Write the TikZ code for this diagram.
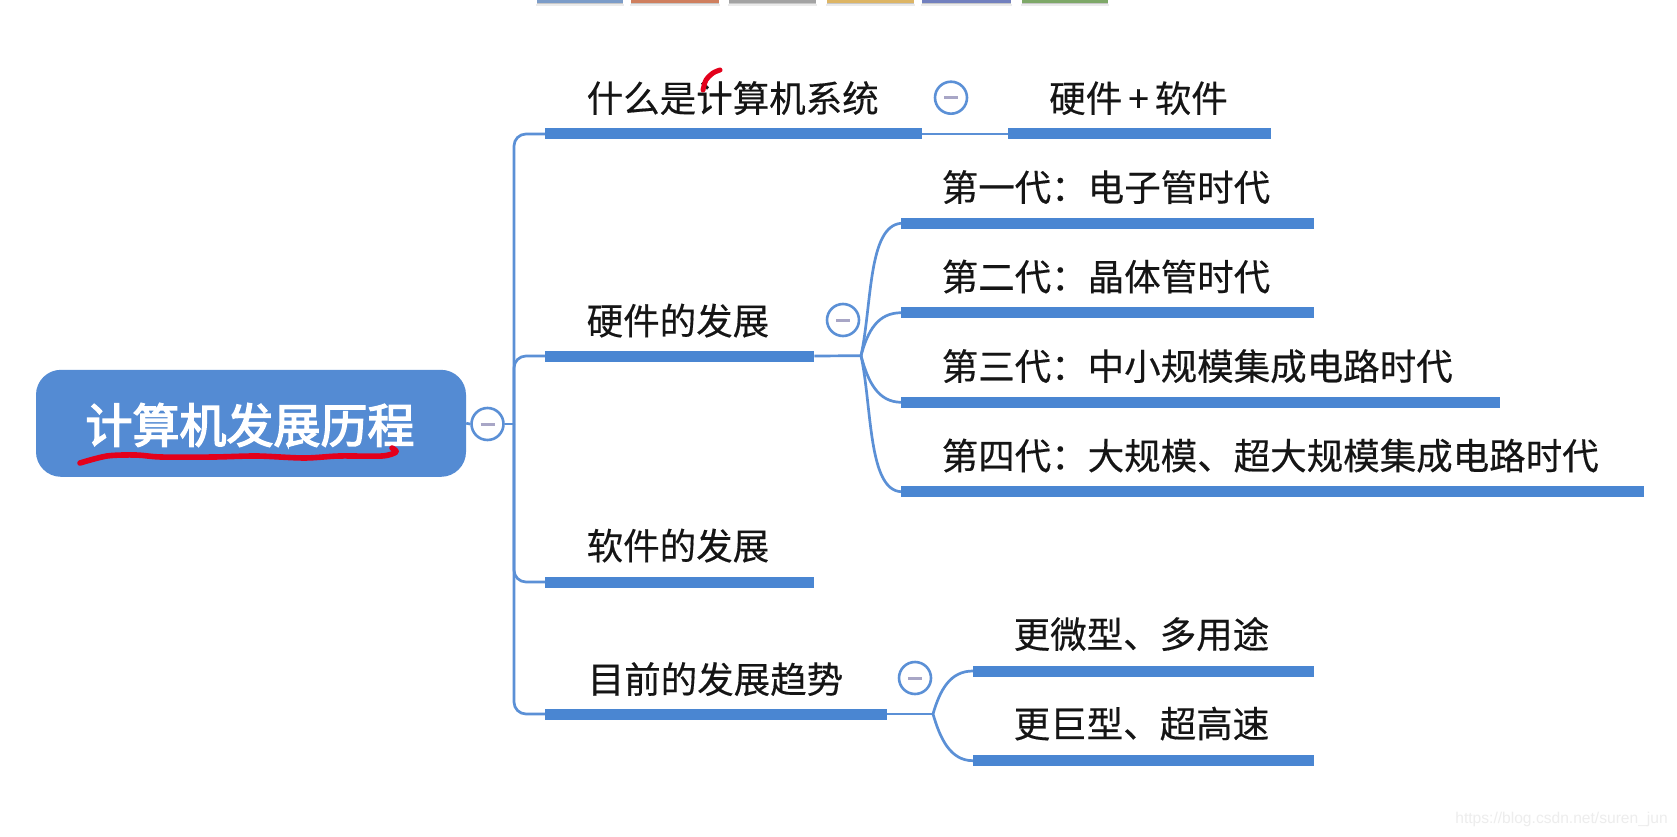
\documentclass[tikz,border=0pt]{standalone}
\usepackage{fontspec}
\setmainfont{Liberation Sans}
\newfontfamily\cjk[FakeBold=0.35]{Noto Sans CJK SC}
\newfontfamily\cjkroot[FakeBold=3]{Noto Sans CJK SC}
\definecolor{barblue}{HTML}{4A86D2}
\definecolor{rootblue}{HTML}{548BD3}
\definecolor{linkblue}{HTML}{5B90D6}
\definecolor{minusgray}{HTML}{A8A6C6}
\definecolor{penred}{HTML}{E3001B}
\definecolor{inkblack}{HTML}{151515}
\definecolor{tabA}{HTML}{7C9CC8}
\definecolor{tabB}{HTML}{CF7F5E}
\definecolor{tabC}{HTML}{A3A3A3}
\definecolor{tabD}{HTML}{DDB565}
\definecolor{tabE}{HTML}{7280BE}
\definecolor{tabF}{HTML}{7EA868}
\tikzset{
  x=1pt,y=-1pt,
  barnode/.style={draw=none,fill=barblue,inner sep=0pt,minimum height=11pt,anchor=west},
  lab/.style={inner sep=0pt,anchor=west,text=inkblack,font=\cjk\fontsize{36.5}{40}\selectfont,text height=31pt,text depth=5pt},
  foldbtn/.style={circle,draw=linkblue,line width=2.6pt,fill=white,minimum size=32pt,inner sep=0pt},
  link/.style={draw=linkblue,line width=2.7pt},
  minusmark/.style={draw=minusgray,line width=3pt},
  pen/.style={draw=penred,line cap=round,line join=round,line width=5.6pt},
  tabbar/.style={inner sep=0pt,minimum height=2.5pt,anchor=north west}
}
\begin{document}
\begin{tikzpicture}
\useasboundingbox[fill=white] (0,0) rectangle (1677,837);
% top toolbar strips
\foreach \nm/\xa/\w/\col in {ta/537/86/tabA,tb/631/88/tabB,tc/729/87/tabC,td/827/87/tabD,te/922/89/tabE,tf/1022/86/tabF}{
  \fill[black!22] (\xa,0) rectangle (\xa+\w,4.5);
  \fill[black!8] (\xa-1,4.5) rectangle (\xa+\w+1,6.5);
  \node[tabbar,fill=\col,minimum width=\w pt] (\nm) at (\xa,0) {};
}
% bars
\node[barnode,minimum width=377pt] (b1) at (545,134) {};
\node[barnode,minimum width=263pt] (b1a) at (1008,134) {};
\node[barnode,minimum width=269pt] (b2) at (545,356) {};
\node[barnode,minimum width=269pt] (b3) at (545,582) {};
\node[barnode,minimum width=342pt] (b4) at (545,714) {};
\node[barnode,minimum width=413pt] (h1) at (901,223.3) {};
\node[barnode,minimum width=413pt] (h2) at (901,312.7) {};
\node[barnode,minimum width=599pt] (h3) at (901,402.3) {};
\node[barnode,minimum width=743pt] (h4) at (901,491.7) {};
\node[barnode,minimum width=341pt] (t1) at (973,671) {};
\node[barnode,minimum width=341pt] (t2) at (973,760.7) {};
% root
\node[draw=none,fill=rootblue,rounded corners=25pt,minimum width=430pt,minimum height=107pt,inner sep=0pt] (root) at (251,423.3) {};
\node[inner sep=0pt,text=white,font=\cjkroot\fontsize{47}{50}\selectfont] (roottext) at (250,425) {计算机发展历程};
% connectors
\coordinate (J) at (514,424);
\coordinate (FH) at (861,355.7);
\coordinate (FT) at (933,714);
\node[foldbtn] (c0) at (487.5,424) {};
\draw[link] (root.east) -- (c0.west);
\draw[link] (c0.east) -- (J);
\draw[link,rounded corners=12pt] (J) |- (b1.west);
\draw[link,rounded corners=12pt] (J) |- (b2.west);
\draw[link,rounded corners=12pt] (J) |- (b3.west);
\draw[link,rounded corners=12pt] (J) |- (b4.west);
\draw[link] (b1.east) -- (b1a.west);
\draw[link] (b2.east) -- (FH);
\draw[link] (b4.east) -- (FT);
\draw[link] (FH) .. controls (872,305) and (868,226) .. (h1.west);
\draw[link] (FH) .. controls (868,330) and (878,313) .. (h2.west);
\draw[link] (FH) .. controls (868,382) and (878,402) .. (h3.west);
\draw[link] (FH) .. controls (872,406) and (868,490) .. (h4.west);
\draw[link] (FT) .. controls (940,690) and (950,671) .. (t1.west);
\draw[link] (FT) .. controls (940,738) and (950,760.7) .. (t2.west);
% fold buttons
\node[foldbtn] (c1) at (951,97.7) {};
\node[foldbtn] (c2) at (843,320) {};
\node[foldbtn] (c3) at (915,678) {};
\foreach \c in {c0,c1,c2,c3}{
  \draw[minusmark] ([xshift=-7pt]\c.center) -- ([xshift=7pt]\c.center);
}
% labels
\node[lab] (l1) at (586.5,99) {什么是计算机系统};
\node[lab] (l1a) at (1049,99) {硬件\kern-2pt{} + \kern-2pt{}软件};
\node[lab] (l2) at (586.5,321.5) {硬件的发展};
\node[lab] (l3) at (586.5,546.5) {软件的发展};
\node[lab] (l4) at (587.5,680) {目前的发展趋势};
\node[lab] (lh1) at (941.5,188) {第一代：电子管时代};
\node[lab] (lh2) at (941.5,277.5) {第二代：晶体管时代};
\node[lab] (lh3) at (941.5,367) {第三代：中小规模集成电路时代};
\node[lab] (lh4) at (941.5,456.5) {第四代：大规模、超大规模集成电路时代};
\node[lab] (lt1) at (1013.5,635) {更微型、多用途};
\node[lab] (lt2) at (1013.5,724.5) {更巨型、超高速};
% pen strokes
\draw[pen] plot[smooth,tension=0.5] coordinates {(80,463) (107,456) (136,455) (161,457) (214,457) (257,456) (304,458) (339,456) (382,456) (396,452) (392,448)};
\draw[pen,line width=5pt] plot[smooth] coordinates {(703,90) (706,80) (713,73) (720,70)};
% watermark
\node[inner sep=0pt,anchor=east,text=black!7,font=\fontsize{15.6}{20}\selectfont] (wm) at (1668,819) {https://blog.csdn.net/suren\_jun};
\end{tikzpicture}
\end{document}
